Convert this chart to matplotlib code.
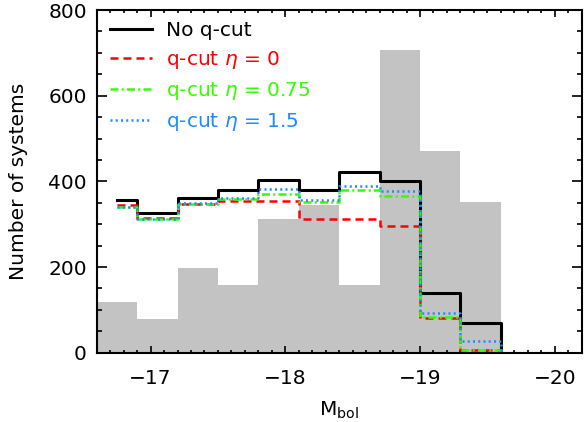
import matplotlib
matplotlib.use('Agg')
import matplotlib.pyplot as plt
from matplotlib.ticker import MultipleLocator

# bin centres (M_bol) of the step curves
mag_centers = [-16.75, -17.05, -17.35, -17.65, -17.95, -18.25,
               -18.55, -18.85, -19.15, -19.45, -19.75, -20.05]
no_cut = [356, 325, 362, 379, 404, 380, 421, 401, 140, 69, 0, 0]
cut_eta0 = [345, 314, 347, 355, 353, 313, 311, 295, 82, 6, 0, 0]
cut_eta075 = [341, 313, 348, 359, 371, 351, 380, 365, 84, 7, 0, 0]
cut_eta15 = [340, 311, 349, 361, 381, 357, 390, 378, 93, 27, 0, 0]

# grey background histogram
gray_edges = [-16.6, -16.9, -17.2, -17.5, -17.8, -18.1,
              -18.4, -18.7, -19.0, -19.3, -19.6]
gray_counts = [118, 78, 197, 157, 313, 345, 157, 707, 472, 352]

plt.rcParams['font.family'] = ['DejaVu Sans']
plt.rcParams['mathtext.fontset'] = 'dejavusans'

fig = plt.figure(figsize=(5.84, 4.22), dpi=100)
ax = fig.add_axes([0.1656, 0.1642, 0.8304, 0.8121])

ax.stairs(gray_counts[::-1], gray_edges[::-1], fill=True,
          color='#c3c3c3', lw=0, zorder=1)

ax.step(mag_centers, no_cut, where='mid', color='black', lw=2.2,
        label='No q-cut', zorder=3)
ax.step(mag_centers, cut_eta0, where='mid', color='#ff0000', lw=1.8,
        dashes=(3.2, 2.0), label=r'q-cut $\eta$ = 0', zorder=4)
ax.step(mag_centers, cut_eta075, where='mid', color='#33ff00', lw=1.8,
        dashes=(3.2, 1.3, 0.8, 1.3), label=r'q-cut $\eta$ = 0.75', zorder=5)
ax.step(mag_centers, cut_eta15, where='mid', color='#1e8cff', lw=1.8,
        dashes=(0.8, 1.3), label=r'q-cut $\eta$ = 1.5', zorder=6)

ax.set_xlim(-16.6, -20.2)
ax.set_ylim(0, 800)
ax.xaxis.set_major_locator(MultipleLocator(1))
ax.xaxis.set_minor_locator(MultipleLocator(0.1))
ax.yaxis.set_major_locator(MultipleLocator(200))
ax.yaxis.set_minor_locator(MultipleLocator(50))

for s in ax.spines.values():
    s.set_linewidth(1.5)
    s.set_zorder(10)
ax.tick_params(axis='both', which='both', direction='in', top=True,
               right=True, width=1.2, labelsize=14.5)
ax.tick_params(axis='x', which='major', length=5, pad=12)
ax.tick_params(axis='x', which='minor', length=2.5)
ax.tick_params(axis='y', which='major', length=7, pad=7)
ax.tick_params(axis='y', which='minor', length=3.6)

ax.set_xlabel(r'M$_{\rm bol}$', fontsize=14.5, labelpad=8)
ax.set_ylabel('Number of systems', fontsize=14.5, labelpad=15)

leg = ax.legend(loc='upper left', bbox_to_anchor=(0.027, 0.968),
                frameon=False, fontsize=14.5, handlelength=2.1,
                handletextpad=0.7, labelspacing=0.45, borderpad=0,
                borderaxespad=0)
for txt, line in zip(leg.get_texts(), leg.get_lines()):
    txt.set_color(line.get_color())

fig.savefig('out.png', dpi=100)
